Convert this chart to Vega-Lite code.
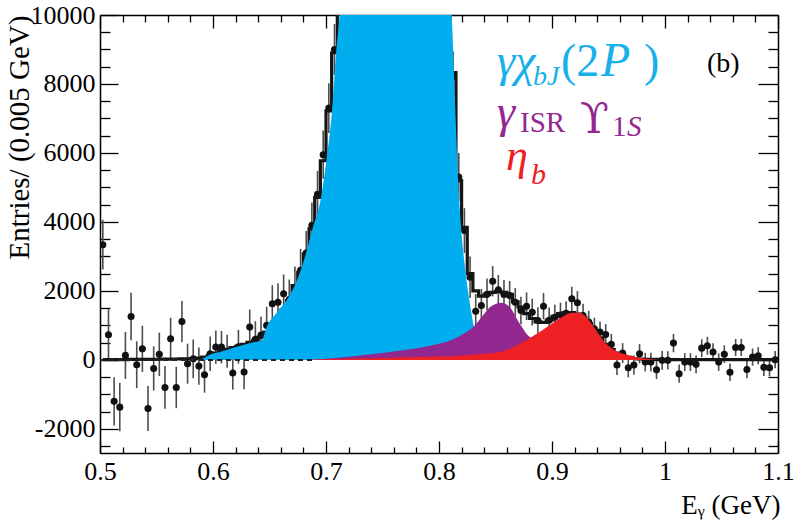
{
  "$schema": "https://vega.github.io/schema/vega-lite/v6.json",
  "width": 678,
  "height": 438,
  "autosize": {"type": "none"},
  "padding": {"left": 100, "top": 15, "right": 16, "bottom": 67},
  "background": "white",
  "config": {"view": {"stroke": null}},
  "datasets": {
    "pts": [
      {"x":0.5025,"y":3340,"e":720},{"x":0.5075,"y":730,"e":740},{"x":0.5125,"y":-1200,"e":700},{"x":0.5175,"y":-1370,"e":700},
      {"x":0.5225,"y":130,"e":680},{"x":0.5275,"y":1260,"e":690},{"x":0.5325,"y":-140,"e":680},{"x":0.5375,"y":320,"e":670},
      {"x":0.5425,"y":-1410,"e":650},{"x":0.5475,"y":-250,"e":640},{"x":0.5525,"y":160,"e":630},{"x":0.5575,"y":-800,"e":620},
      {"x":0.5625,"y":610,"e":610},{"x":0.5675,"y":-800,"e":600},{"x":0.5725,"y":1110,"e":600},{"x":0.5775,"y":-110,"e":580},
      {"x":0.5825,"y":30,"e":560},{"x":0.5875,"y":-180,"e":540},{"x":0.5925,"y":-430,"e":520},{"x":0.5975,"y":180,"e":500},
      {"x":0.6025,"y":370,"e":480},{"x":0.6075,"y":370,"e":470},{"x":0.6125,"y":250,"e":480},{"x":0.6175,"y":-380,"e":480},
      {"x":0.6225,"y":380,"e":490},{"x":0.6275,"y":-350,"e":500},{"x":0.6325,"y":950,"e":510},{"x":0.6375,"y":600,"e":520},
      {"x":0.6425,"y":720,"e":530},{"x":0.6475,"y":1000,"e":540},{"x":0.6525,"y":1626,"e":540},{"x":0.6575,"y":1673,"e":550},
      {"x":0.6625,"y":1916,"e":560},{"x":0.6675,"y":1750,"e":580},{"x":0.6725,"y":2107,"e":600},{"x":0.6775,"y":2600,"e":620},
      {"x":0.6825,"y":3100,"e":640},{"x":0.6875,"y":3900,"e":660},{"x":0.6925,"y":4800,"e":680},{"x":0.6975,"y":5950,"e":700},
      {"x":0.7025,"y":7300,"e":720},{"x":0.7075,"y":9000,"e":740},{"x":0.7125,"y":11200,"e":760},{"x":0.7175,"y":14200,"e":780},
      {"x":0.7225,"y":17100,"e":800},{"x":0.7275,"y":19800,"e":820},{"x":0.7325,"y":23200,"e":840},{"x":0.7375,"y":25800,"e":850},
      {"x":0.7425,"y":28100,"e":860},{"x":0.7475,"y":29900,"e":870},{"x":0.7525,"y":31100,"e":880},{"x":0.7575,"y":31400,"e":880},
      {"x":0.7625,"y":31000,"e":880},{"x":0.7675,"y":30100,"e":870},{"x":0.7725,"y":27900,"e":860},{"x":0.7775,"y":26100,"e":850},
      {"x":0.7825,"y":22900,"e":840},{"x":0.7875,"y":20100,"e":820},{"x":0.7925,"y":16900,"e":800},{"x":0.7975,"y":14600,"e":790},
      {"x":0.8025,"y":12400,"e":780},{"x":0.8075,"y":10700,"e":760},{"x":0.8125,"y":8200,"e":740},{"x":0.8175,"y":5300,"e":700},
      {"x":0.8225,"y":3748,"e":650},{"x":0.8275,"y":2396,"e":600},{"x":0.8325,"y":1412,"e":500},{"x":0.8375,"y":1577,"e":480},
      {"x":0.8425,"y":1900,"e":460},{"x":0.8475,"y":2281,"e":440},{"x":0.8525,"y":2031,"e":430},{"x":0.8575,"y":1895,"e":420},
      {"x":0.8625,"y":1866,"e":420},{"x":0.8675,"y":1673,"e":410},{"x":0.8725,"y":1433,"e":400},{"x":0.8775,"y":1557,"e":400},
      {"x":0.8825,"y":1383,"e":390},{"x":0.8875,"y":1143,"e":380},{"x":0.8925,"y":1557,"e":380},{"x":0.8975,"y":1150,"e":370},
      {"x":0.9025,"y":1238,"e":360},{"x":0.9075,"y":1300,"e":360},{"x":0.9125,"y":1350,"e":350},{"x":0.9175,"y":1771,"e":350},
      {"x":0.9225,"y":1655,"e":340},{"x":0.9275,"y":1288,"e":340},{"x":0.9325,"y":1094,"e":330},{"x":0.9375,"y":903,"e":320},
      {"x":0.9425,"y":805,"e":310},{"x":0.9475,"y":738,"e":300},{"x":0.9525,"y":449,"e":300},{"x":0.9575,"y":-150,"e":290},
      {"x":0.9625,"y":197,"e":290},{"x":0.9675,"y":-226,"e":280},{"x":0.9725,"y":-150,"e":280},{"x":0.9775,"y":179,"e":280},
      {"x":0.9825,"y":-64,"e":270},{"x":0.9875,"y":-64,"e":270},{"x":0.9925,"y":-284,"e":270},{"x":0.9975,"y":-14,"e":270},
      {"x":1.0025,"y":-14,"e":265},{"x":1.0075,"y":486,"e":265},{"x":1.0125,"y":-400,"e":265},{"x":1.0175,"y":-64,"e":260},
      {"x":1.0225,"y":-64,"e":260},{"x":1.0275,"y":-130,"e":260},{"x":1.0325,"y":340,"e":260},{"x":1.0375,"y":410,"e":260},
      {"x":1.0425,"y":226,"e":255},{"x":1.0475,"y":-64,"e":255},{"x":1.0525,"y":165,"e":255},{"x":1.0575,"y":-358,"e":255},
      {"x":1.0625,"y":360,"e":250},{"x":1.0675,"y":360,"e":250},{"x":1.0725,"y":-280,"e":250},{"x":1.0775,"y":81,"e":250},
      {"x":1.0825,"y":120,"e":250},{"x":1.0875,"y":-217,"e":250},{"x":1.0925,"y":-226,"e":250},{"x":1.0975,"y":6,"e":250}
    ],
    "fit": [
      {"x":0.5025,"y":10},{"x":0.5075,"y":10},{"x":0.5125,"y":10},{"x":0.5175,"y":10},{"x":0.5225,"y":10},{"x":0.5275,"y":12},
      {"x":0.5325,"y":12},{"x":0.5375,"y":14},{"x":0.5425,"y":15},{"x":0.5475,"y":16},{"x":0.5525,"y":18},{"x":0.5575,"y":20},
      {"x":0.5625,"y":22},{"x":0.5675,"y":25},{"x":0.5725,"y":28},{"x":0.5775,"y":32},{"x":0.5825,"y":38},{"x":0.5875,"y":50},
      {"x":0.5925,"y":80},{"x":0.5975,"y":130},{"x":0.6025,"y":200},{"x":0.6075,"y":255},{"x":0.6125,"y":304},{"x":0.6175,"y":353},
      {"x":0.6225,"y":390},{"x":0.6275,"y":449},{"x":0.6325,"y":506},{"x":0.6375,"y":564},{"x":0.6425,"y":660},{"x":0.6475,"y":805},
      {"x":0.6525,"y":950},{"x":0.6575,"y":1192},{"x":0.6625,"y":1433},{"x":0.6675,"y":1722},{"x":0.6725,"y":2156},{"x":0.6775,"y":2541},
      {"x":0.6825,"y":3073},{"x":0.6875,"y":3797},{"x":0.6925,"y":4711},{"x":0.6975,"y":5774},{"x":0.7025,"y":7220},{"x":0.7075,"y":8906},
      {"x":0.7125,"y":11000},{"x":0.7175,"y":14000},{"x":0.7225,"y":17000},{"x":0.7275,"y":20000},{"x":0.7325,"y":23000},{"x":0.7375,"y":26000},
      {"x":0.7425,"y":28000},{"x":0.7475,"y":30000},{"x":0.7525,"y":31000},{"x":0.7575,"y":31500},{"x":0.7625,"y":31000},{"x":0.7675,"y":30000},
      {"x":0.7725,"y":28000},{"x":0.7775,"y":26000},{"x":0.7825,"y":23000},{"x":0.7875,"y":20000},{"x":0.7925,"y":17000},{"x":0.7975,"y":14500},
      {"x":0.8025,"y":12500},{"x":0.8075,"y":10800},{"x":0.8125,"y":8330},{"x":0.8175,"y":5195},{"x":0.8225,"y":3843},{"x":0.8275,"y":2500},
      {"x":0.8325,"y":2000},{"x":0.8375,"y":1850},{"x":0.8425,"y":1900},{"x":0.8475,"y":1960},{"x":0.8525,"y":1990},{"x":0.8575,"y":1960},
      {"x":0.8625,"y":1900},{"x":0.8675,"y":1680},{"x":0.8725,"y":1530},{"x":0.8775,"y":1340},{"x":0.8825,"y":1200},{"x":0.8875,"y":1100},
      {"x":0.8925,"y":1090},{"x":0.8975,"y":1150},{"x":0.9025,"y":1260},{"x":0.9075,"y":1340},{"x":0.9125,"y":1370},{"x":0.9175,"y":1370},
      {"x":0.9225,"y":1330},{"x":0.9275,"y":1220},{"x":0.9325,"y":1050},{"x":0.9375,"y":830},{"x":0.9425,"y":640},{"x":0.9475,"y":450},
      {"x":0.9525,"y":300},{"x":0.9575,"y":200},{"x":0.9625,"y":120},{"x":0.9675,"y":70},{"x":0.9725,"y":40},{"x":0.9775,"y":25},
      {"x":0.9825,"y":18},{"x":0.9875,"y":14},{"x":0.9925,"y":12},{"x":0.9975,"y":10},{"x":1.0025,"y":10},{"x":1.0075,"y":10},
      {"x":1.0125,"y":10},{"x":1.0175,"y":10},{"x":1.0225,"y":10},{"x":1.0275,"y":10},{"x":1.0325,"y":10},{"x":1.0375,"y":10},
      {"x":1.0425,"y":10},{"x":1.0475,"y":10},{"x":1.0525,"y":10},{"x":1.0575,"y":10},{"x":1.0625,"y":10},{"x":1.0675,"y":10},
      {"x":1.0725,"y":10},{"x":1.0775,"y":10},{"x":1.0825,"y":10},{"x":1.0875,"y":10},{"x":1.0925,"y":10},{"x":1.0975,"y":10}
    ],
    "chib": [
      {"x":0.588,"y":0},{"x":0.593,"y":70},{"x":0.598,"y":160},{"x":0.603,"y":205},{"x":0.609,"y":255},{"x":0.618,"y":350},
      {"x":0.629,"y":450},{"x":0.637,"y":515},{"x":0.6435,"y":570},{"x":0.6455,"y":760},{"x":0.6469,"y":900},{"x":0.6557,"y":1337},
      {"x":0.6668,"y":1817},{"x":0.676,"y":2450},{"x":0.683,"y":3169},{"x":0.6876,"y":3748},{"x":0.6956,"y":4711},{"x":0.7003,"y":5774},
      {"x":0.7053,"y":7220},{"x":0.709,"y":8906},{"x":0.712,"y":10000},{"x":0.715,"y":11500},{"x":0.72,"y":14000},{"x":0.73,"y":19000},
      {"x":0.74,"y":24000},{"x":0.75,"y":28000},{"x":0.76,"y":31000},{"x":0.765,"y":31500},{"x":0.77,"y":30500},{"x":0.78,"y":27000},
      {"x":0.79,"y":21000},{"x":0.8,"y":15500},{"x":0.805,"y":12800},{"x":0.81,"y":10500},{"x":0.8112,"y":10000},{"x":0.8141,"y":7511},
      {"x":0.8171,"y":5100},{"x":0.82,"y":3652},{"x":0.823,"y":2686},{"x":0.826,"y":1916},{"x":0.8288,"y":1337},{"x":0.8303,"y":1048},
      {"x":0.833,"y":850},{"x":0.836,"y":700}
    ],
    "isr": [
      {"x":0.688,"y":0},{"x":0.7,"y":35},{"x":0.72,"y":90},{"x":0.74,"y":160},{"x":0.76,"y":240},{"x":0.78,"y":340},
      {"x":0.8,"y":469},{"x":0.81,"y":560},{"x":0.8244,"y":805},{"x":0.8303,"y":950},{"x":0.838,"y":1250},{"x":0.845,"y":1528},
      {"x":0.8553,"y":1660},{"x":0.8627,"y":1528},{"x":0.8715,"y":1048},{"x":0.8804,"y":660},{"x":0.885,"y":600},{"x":0.89,"y":500},
      {"x":0.9,"y":300},{"x":0.91,"y":0}
    ],
    "etab": [
      {"x":0.684,"y":0},{"x":0.7,"y":20},{"x":0.72,"y":35},{"x":0.74,"y":50},{"x":0.76,"y":65},{"x":0.78,"y":80},
      {"x":0.8,"y":100},{"x":0.818,"y":120},{"x":0.835,"y":160},{"x":0.854,"y":226},{"x":0.8715,"y":469},{"x":0.889,"y":805},
      {"x":0.904,"y":1143},{"x":0.9185,"y":1366},{"x":0.9244,"y":1366},{"x":0.9317,"y":1192},{"x":0.9391,"y":854},{"x":0.948,"y":469},
      {"x":0.9568,"y":255},{"x":0.9686,"y":130},{"x":0.9833,"y":35},{"x":0.995,"y":0}
    ],
    "bkg": [{"x":0.5,"y":0},{"x":0.69,"y":0}]
  },
  "resolve": {"axis": {"x": "independent", "y": "independent"}},
  "layer": [
    {
      "data": {"name": "pts"},
      "mark": {"type": "errorbar", "clip": true, "rule": {"strokeWidth": 1.6, "color": "#4d4d4d"}},
      "encoding": {
        "x": {"field": "x", "type": "quantitative", "scale": {"domain": [0.5, 1.1], "nice": false, "zero": false}, "axis": null},
        "y": {"field": "y", "type": "quantitative", "scale": {"domain": [-2700, 10000], "nice": false, "zero": false}, "axis": null},
        "yError": {"field": "e"}
      }
    },
    {
      "data": {"name": "pts"},
      "mark": {"type": "point", "filled": true, "shape": "circle", "size": 50, "color": "#111111", "opacity": 1, "clip": true},
      "encoding": {
        "x": {"field": "x", "type": "quantitative", "scale": {"domain": [0.5, 1.1], "nice": false, "zero": false},
          "axis": {"orient": "bottom", "values": [0.5,0.52,0.54,0.56,0.58,0.6,0.62,0.64,0.66,0.68,0.7,0.72,0.74,0.76,0.78,0.8,0.82,0.84,0.86,0.88,0.9,0.92,0.94,0.96,0.98,1,1.02,1.04,1.06,1.08,1.1],
            "tickSize": {"condition": {"test": "abs(datum.value*10 - round(datum.value*10)) < 0.001", "value": -12}, "value": -6},
            "labelExpr": "abs(datum.value*10 - round(datum.value*10)) < 0.001 ? format(datum.value, '.1~f') : ''",
            "labelPadding": 17, "labelFont": "Liberation Serif", "labelFontSize": 26, "labelColor": "black",
            "labelFlush": false, "labelOverlap": false, "labelBound": false, "grid": false,
            "domainColor": "black", "domainWidth": 1.5, "tickColor": "black", "tickWidth": 1.3,
            "title": "Eᵧ (GeV)", "titleFont": "Liberation Serif", "titleFontSize": 27, "titleFontWeight": "normal", "titleColor": "black",
            "titleX": 680, "titleY": 60, "titleAlign": "right", "titleBaseline": "alphabetic", "titleAnchor": null}},
        "y": {"field": "y", "type": "quantitative", "scale": {"domain": [-2700, 10000], "nice": false, "zero": false},
          "axis": {"orient": "left", "values": [-2500,-2000,-1500,-1000,-500,0,500,1000,1500,2000,2500,3000,3500,4000,4500,5000,5500,6000,6500,7000,7500,8000,8500,9000,9500,10000],
            "tickSize": {"condition": {"test": "datum.value % 2000 === 0", "value": -18}, "value": -10},
            "labelExpr": "datum.value % 2000 === 0 ? '' + datum.value : ''",
            "labelPadding": 23, "labelFont": "Liberation Serif", "labelFontSize": 26, "labelColor": "black",
            "labelFlush": false, "labelOverlap": false, "labelBound": false, "grid": false,
            "domainColor": "black", "domainWidth": 1.5, "tickColor": "black", "tickWidth": 1.3,
            "title": "Entries/ (0.005 GeV)", "titleFont": "Liberation Serif", "titleFontSize": 29, "titleFontWeight": "normal", "titleColor": "black",
            "titleX": -72, "titleY": 0, "titleAngle": -90, "titleAlign": "right", "titleBaseline": "alphabetic"}}
      }
    },
    {
      "data": {"name": "fit"},
      "mark": {"type": "line", "interpolate": "step", "strokeWidth": 3.2, "color": "#151515", "clip": true},
      "encoding": {
        "x": {"field": "x", "type": "quantitative", "scale": {"domain": [0.5, 1.1], "nice": false, "zero": false},
          "axis": {"orient": "top", "values": [0.5,0.52,0.54,0.56,0.58,0.6,0.62,0.64,0.66,0.68,0.7,0.72,0.74,0.76,0.78,0.8,0.82,0.84,0.86,0.88,0.9,0.92,0.94,0.96,0.98,1,1.02,1.04,1.06,1.08,1.1],
            "tickSize": {"condition": {"test": "abs(datum.value*10 - round(datum.value*10)) < 0.001", "value": -13}, "value": -7},
            "labels": false, "grid": false, "title": null,
            "domainColor": "black", "domainWidth": 1.5, "tickColor": "black", "tickWidth": 1.3}},
        "y": {"field": "y", "type": "quantitative", "scale": {"domain": [-2700, 10000], "nice": false, "zero": false},
          "axis": {"orient": "right", "values": [-2500,-2000,-1500,-1000,-500,0,500,1000,1500,2000,2500,3000,3500,4000,4500,5000,5500,6000,6500,7000,7500,8000,8500,9000,9500,10000],
            "tickSize": {"condition": {"test": "datum.value % 2000 === 0", "value": -20}, "value": -10},
            "labels": false, "grid": false, "title": null,
            "domainColor": "black", "domainWidth": 1.5, "tickColor": "black", "tickWidth": 1.3}}
      }
    },
    {
      "data": {"name": "chib"},
      "mark": {"type": "area", "interpolate": "monotone", "color": "#00AEEF", "opacity": 1, "clip": true},
      "encoding": {
        "x": {"field": "x", "type": "quantitative", "axis": null},
        "y": {"field": "y", "type": "quantitative", "axis": null}
      }
    },
    {
      "data": {"name": "bkg"},
      "mark": {"type": "line", "strokeDash": [5, 4], "strokeWidth": 2, "color": "#222222", "clip": true},
      "encoding": {
        "x": {"field": "x", "type": "quantitative", "axis": null},
        "y": {"field": "y", "type": "quantitative", "axis": null}
      }
    },
    {
      "data": {"name": "isr"},
      "mark": {"type": "area", "interpolate": "monotone", "color": "#92278F", "opacity": 1, "clip": true},
      "encoding": {
        "x": {"field": "x", "type": "quantitative", "axis": null},
        "y": {"field": "y", "type": "quantitative", "axis": null}
      }
    },
    {
      "data": {"name": "etab"},
      "mark": {"type": "area", "interpolate": "monotone", "color": "#ED2024", "opacity": 1, "clip": true},
      "encoding": {
        "x": {"field": "x", "type": "quantitative", "axis": null},
        "y": {"field": "y", "type": "quantitative", "axis": null}
      }
    },
    {
      "data": {"values": [{}]},
      "mark": {"type": "text", "text": "γχ", "font": "Liberation Serif", "fontSize": 46, "fontStyle": "italic", "color": "#17B0E8", "align": "left", "baseline": "alphabetic"},
      "encoding": {"x": {"datum": 0.8513, "type": "quantitative", "axis": null}, "y": {"datum": 8231, "type": "quantitative", "axis": null}}
    },
    {
      "data": {"values": [{}]},
      "mark": {"type": "text", "text": "bJ", "font": "Liberation Serif", "fontSize": 28, "fontStyle": "italic", "color": "#17B0E8", "align": "left", "baseline": "alphabetic"},
      "encoding": {"x": {"datum": 0.8832, "type": "quantitative", "axis": null}, "y": {"datum": 7970, "type": "quantitative", "axis": null}}
    },
    {
      "data": {"values": [{}]},
      "mark": {"type": "text", "text": "(2", "font": "Liberation Serif", "fontSize": 46, "color": "#17B0E8", "align": "left", "baseline": "alphabetic"},
      "encoding": {"x": {"datum": 0.908, "type": "quantitative", "axis": null}, "y": {"datum": 8231, "type": "quantitative", "axis": null}}
    },
    {
      "data": {"values": [{}]},
      "mark": {"type": "text", "text": "P", "font": "Liberation Serif", "fontSize": 48, "fontStyle": "italic", "color": "#17B0E8", "align": "left", "baseline": "alphabetic"},
      "encoding": {"x": {"datum": 0.9434, "type": "quantitative", "axis": null}, "y": {"datum": 8231, "type": "quantitative", "axis": null}}
    },
    {
      "data": {"values": [{}]},
      "mark": {"type": "text", "text": ")", "font": "Liberation Serif", "fontSize": 46, "color": "#17B0E8", "align": "left", "baseline": "alphabetic"},
      "encoding": {"x": {"datum": 0.9815, "type": "quantitative", "axis": null}, "y": {"datum": 8231, "type": "quantitative", "axis": null}}
    },
    {
      "data": {"values": [{}]},
      "mark": {"type": "text", "text": "(b)", "font": "Liberation Serif", "fontSize": 28, "color": "black", "align": "left", "baseline": "alphabetic"},
      "encoding": {"x": {"datum": 1.0372, "type": "quantitative", "axis": null}, "y": {"datum": 8350, "type": "quantitative", "axis": null}}
    },
    {
      "data": {"values": [{}]},
      "mark": {"type": "text", "text": "γ", "font": "Liberation Serif", "fontSize": 46, "fontStyle": "italic", "color": "#93278F", "align": "left", "baseline": "alphabetic"},
      "encoding": {"x": {"datum": 0.8513, "type": "quantitative", "axis": null}, "y": {"datum": 6753, "type": "quantitative", "axis": null}}
    },
    {
      "data": {"values": [{}]},
      "mark": {"type": "text", "text": "ISR", "font": "Liberation Serif", "fontSize": 29, "color": "#93278F", "align": "left", "baseline": "alphabetic"},
      "encoding": {"x": {"datum": 0.8717, "type": "quantitative", "axis": null}, "y": {"datum": 6608, "type": "quantitative", "axis": null}}
    },
    {
      "data": {"values": [{}]},
      "mark": {"type": "text", "text": "ϒ", "font": "DejaVu Serif", "fontSize": 42, "color": "#93278F", "align": "left", "baseline": "alphabetic"},
      "encoding": {"x": {"datum": 0.9248, "type": "quantitative", "axis": null}, "y": {"datum": 6579, "type": "quantitative", "axis": null}}
    },
    {
      "data": {"values": [{}]},
      "mark": {"type": "text", "text": "1", "font": "Liberation Serif", "fontSize": 29, "color": "#93278F", "align": "left", "baseline": "alphabetic"},
      "encoding": {"x": {"datum": 0.9531, "type": "quantitative", "axis": null}, "y": {"datum": 6492, "type": "quantitative", "axis": null}}
    },
    {
      "data": {"values": [{}]},
      "mark": {"type": "text", "text": "S", "font": "Liberation Serif", "fontSize": 29, "fontStyle": "italic", "color": "#93278F", "align": "left", "baseline": "alphabetic"},
      "encoding": {"x": {"datum": 0.9664, "type": "quantitative", "axis": null}, "y": {"datum": 6492, "type": "quantitative", "axis": null}}
    },
    {
      "data": {"values": [{}]},
      "mark": {"type": "text", "text": "η", "font": "Liberation Serif", "fontSize": 44, "fontStyle": "italic", "color": "#ED2024", "align": "left", "baseline": "alphabetic"},
      "encoding": {"x": {"datum": 0.8593, "type": "quantitative", "axis": null}, "y": {"datum": 5506, "type": "quantitative", "axis": null}}
    },
    {
      "data": {"values": [{}]},
      "mark": {"type": "text", "text": "b", "font": "Liberation Serif", "fontSize": 30, "fontStyle": "italic", "color": "#ED2024", "align": "left", "baseline": "alphabetic"},
      "encoding": {"x": {"datum": 0.8814, "type": "quantitative", "axis": null}, "y": {"datum": 5100, "type": "quantitative", "axis": null}}
    }
  ]
}
